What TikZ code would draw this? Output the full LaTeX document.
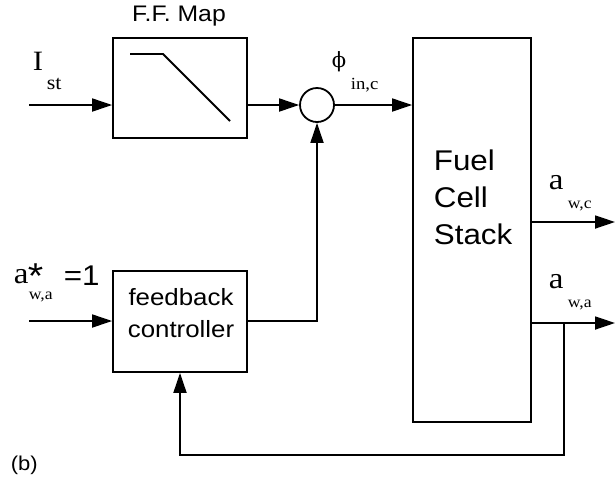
\documentclass[tikz,border=0pt]{standalone}
\usepackage{fontspec}
\usetikzlibrary{arrows.meta,calc}
\newfontfamily\labsans[FakeStretch=1.1]{Liberation Sans}
\newfontfamily\labserif[FakeStretch=1.1]{Liberation Serif}
\newfontfamily\phifont{DejaVu Serif}
\newcommand{\fsz}[1]{\fontsize{#1}{#1}\selectfont}
\begin{document}
\begin{tikzpicture}[x=1pt,y=-1pt,
  line width=1.8pt,
  blk/.style={draw,rectangle,inner sep=0pt,line width=1.8pt},
  conn/.style={-{Triangle[length=20pt,width=13pt]},line width=1.8pt},
  wire/.style={line width=1.8pt},
  sanslab/.style={inner sep=0pt,anchor=base west,font=\labsans\fsz{#1}},
  seriflab/.style={inner sep=0pt,anchor=base west,font=\labserif\fsz{#1}}]
\useasboundingbox (0,0) rectangle (615,483);

% blocks
\node[blk,minimum width=134pt,minimum height=100pt] (ff) at (180,88) {};
\node[blk,minimum width=134pt,minimum height=101pt] (ctrl) at (180,321.5) {};
\node[blk,minimum width=118pt,minimum height=384pt] (fcs) at (472,230) {};
\node[draw,circle,inner sep=0pt,minimum size=34pt,line width=1.8pt] (sum) at (317,105) {};

% block texts
\node[inner sep=0pt,anchor=base,font=\labsans\fsz{22.5}] (fftitle) at (179,21) {F.F. Map};
\node[inner sep=0pt,anchor=base,font=\labsans\fsz{23.5}] (fb1) at (181,305) {feedback};
\node[inner sep=0pt,anchor=base,font=\labsans\fsz{23.5}] (fb2) at (181,337) {controller};
\node[sanslab=28.5] (fc1) at (433,170) {Fuel};
\node[sanslab=28.5] (fc2) at (433,207) {Cell};
\node[sanslab=28.5] (fc3) at (433,244) {Stack};

% map curve
\draw[wire] (130,54) -- (163,54) -- (230,121);

% coordinates for free ends
\coordinate (ist) at (29,105);
\coordinate (aref) at (29,321);
\coordinate (awc) at (615,222);
\coordinate (awa) at (615,323);
\coordinate (split) at (564,323);
\coordinate (fbl) at (564,455);
\coordinate (fbr) at (180,455);
\coordinate (cturn) at (317,321);

% connectors
\draw[conn] (ist) -- (ist -| ff.west);
\draw[conn] (ff.east |- sum) -- (sum.west);
\draw[conn] (sum.east) -- (sum.east -| fcs.west);
\draw[conn] (aref) -- (aref -| ctrl.west);
\draw[conn] (ctrl.east |- cturn) -- (cturn) -- (sum.south);
\draw[conn] (fcs.east |- awc) -- (awc);
\draw[conn] (fcs.east |- awa) -- (awa);
\draw[conn] (split) -- (fbl) -- (fbr) -- (ctrl.south);

% signal labels
\node[seriflab=28] (lI) at (32,70) {I};
\node[seriflab=20] (lst) at (46,89) {st};
\node[inner sep=0pt,anchor=base west,font=\phifont\fsz{21}] (lphi) at (331,67) {ϕ};
\node[seriflab=17] (lin) at (350,89) {in,c};
\node[seriflab=30] (la1) at (548,189) {a};
\node[seriflab=16] (lwc) at (567,208) {w,c};
\node[seriflab=30] (la2) at (548,288) {a};
\node[seriflab=16] (lwa) at (567,307) {w,a};
\node[seriflab=30] (la3) at (13,283) {a};
\node[sanslab=36] (lstar) at (27,288) {*};
\node[seriflab=16] (lwa2) at (28,299) {w,a};
\node[sanslab=28.5] (leq) at (63,285) {=1};
\node[sanslab=20] (lb) at (10,470) {(b)};
\end{tikzpicture}
\end{document}
